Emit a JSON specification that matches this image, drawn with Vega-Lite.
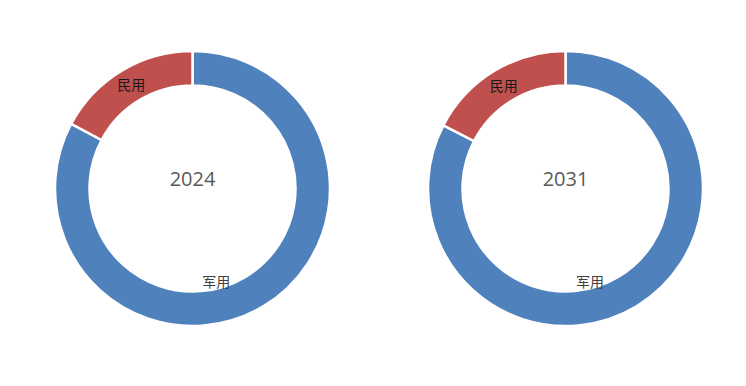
{
  "$schema": "https://vega.github.io/schema/vega-lite/v6.json",
  "padding": {"left": 12, "top": 0, "right": 0, "bottom": 0},
  "background": "white",
  "data": {
    "values": [
      {"year": "2024", "category": "军用", "share": 82.8},
      {"year": "2024", "category": "民用", "share": 17.2},
      {"year": "2031", "category": "军用", "share": 82.6},
      {"year": "2031", "category": "民用", "share": 17.4}
    ]
  },
  "facet": {
    "column": {"field": "year", "type": "nominal", "header": {"labels": false, "title": null}}
  },
  "spacing": 12,
  "spec": {
    "width": 361,
    "height": 377,
    "layer": [
      {
        "mark": {"type": "arc", "outerRadius": 137.5, "innerRadius": 103, "stroke": "white", "strokeWidth": 2.5},
        "encoding": {
          "theta": {"field": "share", "type": "quantitative", "stack": true},
          "order": {"field": "category", "type": "nominal", "sort": "ascending"},
          "color": {"field": "category", "type": "nominal", "scale": {"domain": ["军用", "民用"], "range": ["#4F81BD", "#C0504D"]}, "legend": null}
        }
      },
      {
        "mark": {"type": "text", "radius": 119, "font": "Noto Sans CJK SC", "fontSize": 14, "color": "#1a1a1a", "align": "center", "baseline": "middle"},
        "encoding": {
          "theta": {"field": "share", "type": "quantitative", "stack": true},
          "order": {"field": "category", "type": "nominal", "sort": "ascending"},
          "text": {"condition": {"test": "datum.category === '民用'", "field": "category"}, "value": ""}
        }
      },
      {
        "mark": {"type": "text", "radius": 110.5, "dx": -33, "font": "Noto Sans CJK SC", "fontSize": 14, "color": "#404040", "align": "center", "baseline": "middle"},
        "encoding": {
          "theta": {"field": "share", "type": "quantitative", "stack": true},
          "order": {"field": "category", "type": "nominal", "sort": "ascending"},
          "text": {"condition": {"test": "datum.category === '军用'", "field": "category"}, "value": ""}
        }
      },
      {
        "transform": [{"filter": "datum.category === '军用'"}],
        "mark": {"type": "text", "font": "Open Sans", "fontSize": 20, "dy": -9, "color": "#595959", "align": "center", "baseline": "middle"},
        "encoding": {
          "text": {"field": "year"}
        }
      }
    ]
  },
  "config": {"view": {"stroke": null}}
}
